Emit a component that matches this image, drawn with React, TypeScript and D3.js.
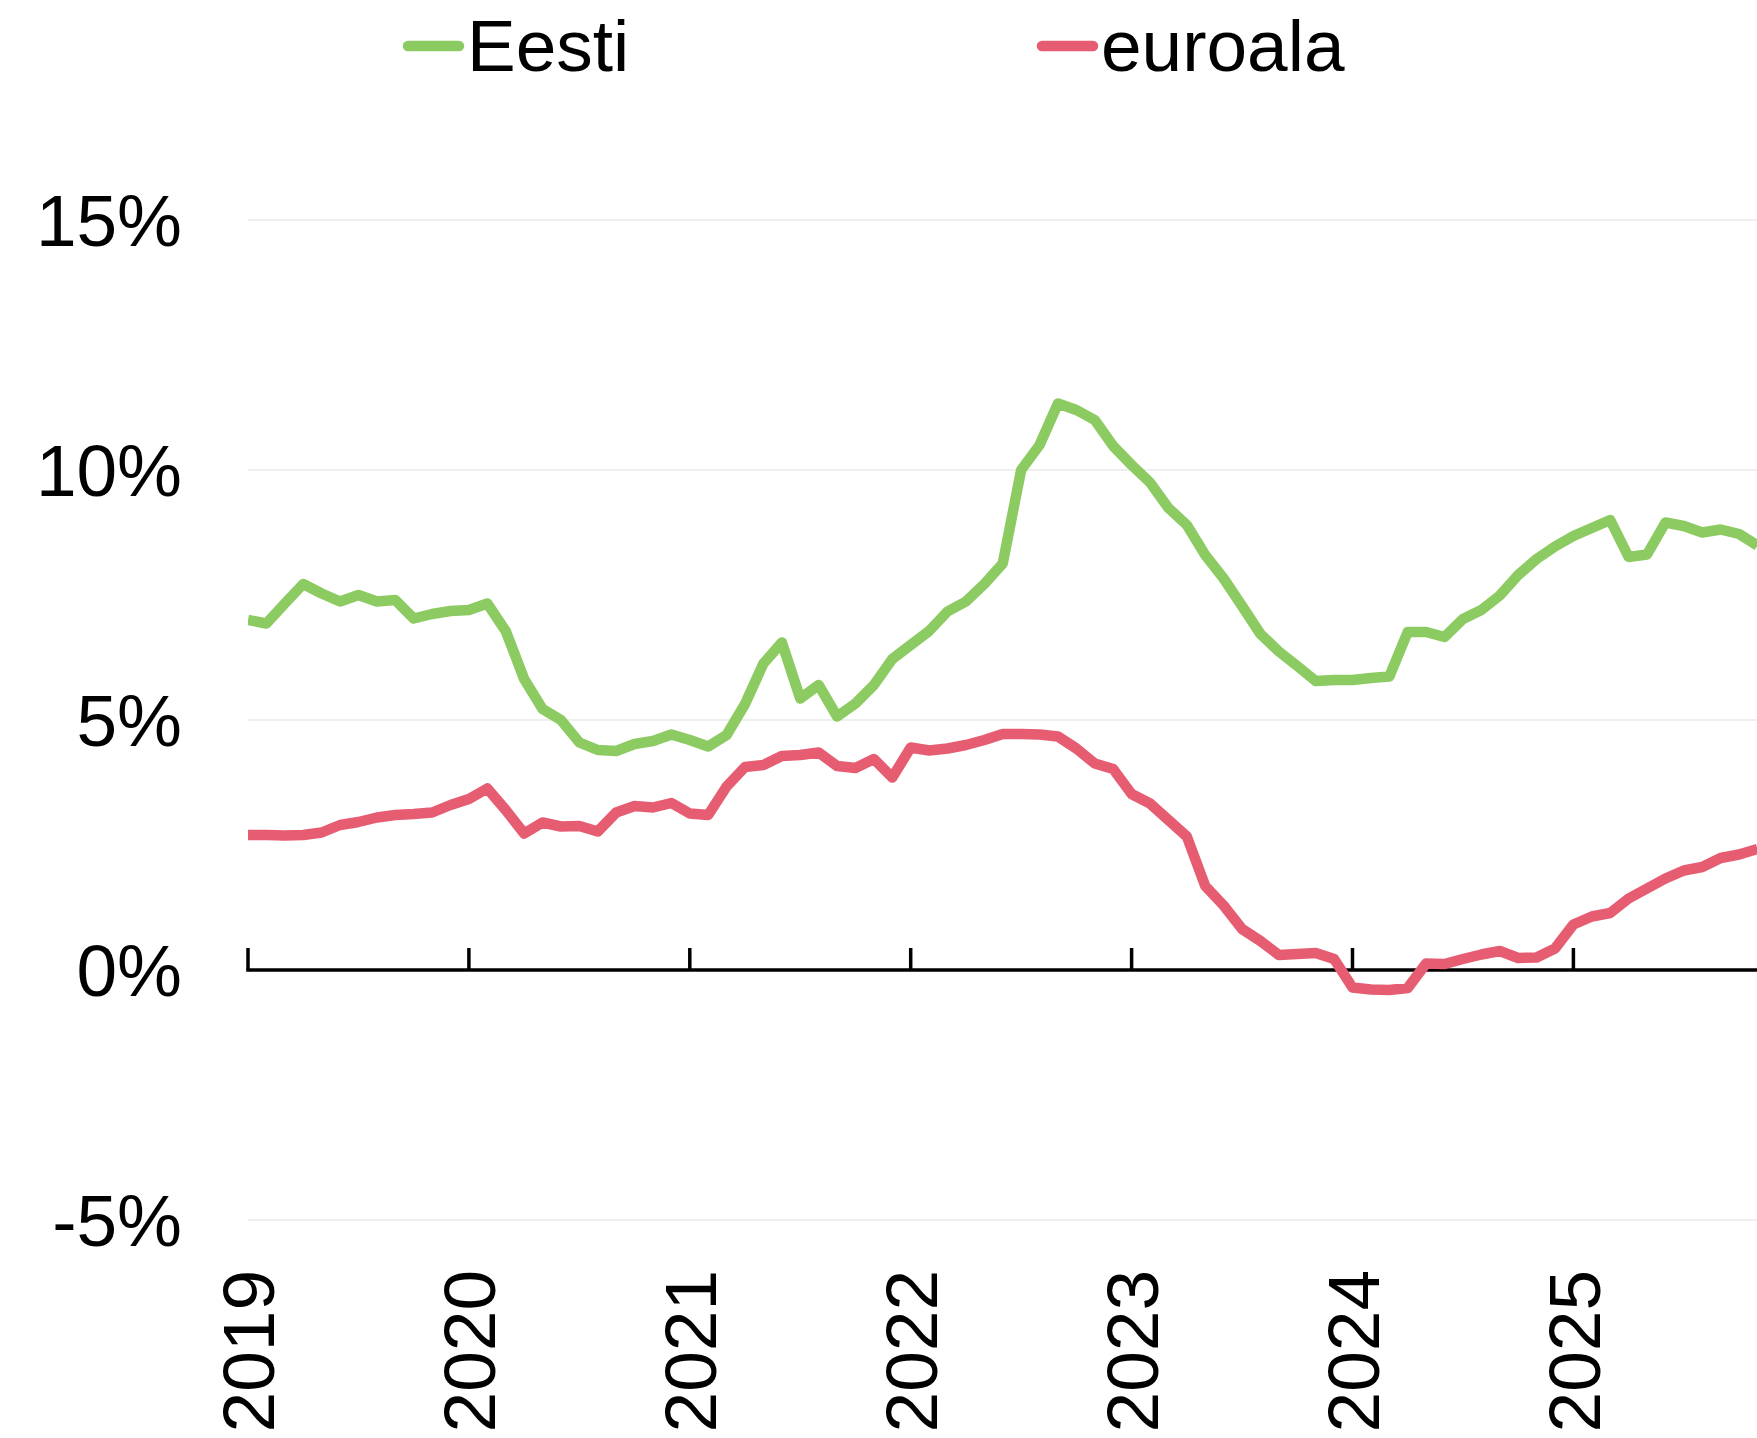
import React from "react";
import * as d3 from "d3";

const W = 1757;
const H = 1438;

const yearLabels = ["2019", "2020", "2021", "2022", "2023", "2024", "2025"];
const yTicks = [-5, 0, 5, 10, 15];
const seriesNames = ["Eesti", "euroala"];
const seriesColors = ["#8ccb62", "#e65d72"];

// monthly values, Jan 2019 .. Nov 2025 (%)
const eesti = [
  7.0, 6.93, 7.33, 7.72, 7.53, 7.37, 7.5, 7.37, 7.4, 7.03, 7.12, 7.18,
  7.2, 7.33, 6.78, 5.82, 5.22, 5.0, 4.55, 4.4, 4.38, 4.52, 4.58, 4.71,
  4.6, 4.47, 4.7, 5.32, 6.13, 6.55, 5.43, 5.7, 5.07, 5.33, 5.7, 6.22,
  6.5, 6.78, 7.17, 7.37, 7.72, 8.13, 10.0, 10.5, 11.33, 11.2, 11.0, 10.48,
  10.1, 9.75, 9.24, 8.9, 8.3, 7.83, 7.28, 6.72, 6.37, 6.08, 5.78, 5.8,
  5.8, 5.84, 5.87, 6.76, 6.76, 6.66, 7.02, 7.2, 7.49, 7.9, 8.22, 8.47,
  8.68, 8.84, 9.0, 8.26, 8.31, 8.95, 8.88, 8.75, 8.81, 8.72, 8.49,
];

const euroala = [
  2.7, 2.7, 2.69, 2.7, 2.75, 2.9, 2.96, 3.05, 3.1, 3.12, 3.15, 3.3,
  3.42, 3.63, 3.2, 2.73, 2.95, 2.87, 2.88, 2.77, 3.15, 3.28, 3.25, 3.34,
  3.13, 3.1, 3.67, 4.06, 4.1, 4.28, 4.3, 4.35, 4.08, 4.04, 4.22, 3.85,
  4.45, 4.39, 4.43, 4.5, 4.6, 4.72, 4.72, 4.71, 4.67, 4.43, 4.13, 4.02,
  3.52, 3.33, 3.0, 2.67, 1.68, 1.29, 0.82, 0.58, 0.3, 0.32, 0.34, 0.22,
  -0.35, -0.39, -0.4, -0.36, 0.13, 0.12, 0.22, 0.31, 0.38, 0.24, 0.25, 0.43,
  0.91, 1.07, 1.14, 1.43, 1.63, 1.83, 1.99, 2.06, 2.24, 2.31, 2.42,
];

export default function App() {
  const x = d3.scaleLinear().domain([0, 12]).range([248, 468.9]);
  const y = d3.scaleLinear().domain([-5, 15]).range([1220, 220]);
  const line = d3
    .line<number>()
    .x((_, i) => x(i))
    .y((d) => y(d));

  const font = "'Liberation Sans', Arial, sans-serif";
  const plotLeft = x(0);
  const seriesData = [eesti, euroala];
  const legendX = [403, 1037];

  return (
    <svg
      width={W}
      height={H}
      style={{ position: "absolute", left: 0, top: 0, background: "#fff" }}
      fontFamily={font}
    >
      <defs>
        <clipPath id="plotclip">
          <rect x={plotLeft} y={0} width={W - plotLeft} height={H} />
        </clipPath>
      </defs>
      {/* gridlines */}
      {yTicks
        .filter((t) => t !== 0)
        .map((t) => (
          <line
            key={"g" + t}
            x1={plotLeft}
            x2={W}
            y1={y(t)}
            y2={y(t)}
            stroke="#efefef"
            strokeWidth={2}
          />
        ))}
      {/* y labels */}
      {yTicks.map((t) => (
        <text
          key={"yl" + t}
          x={182}
          y={y(t)}
          dy="0.36em"
          textAnchor="end"
          fontSize={73}
          fill="#000"
        >
          {t + "%"}
        </text>
      ))}
      {/* zero axis */}
      <line x1={plotLeft - 1.75} x2={W} y1={y(0)} y2={y(0)} stroke="#000" strokeWidth={3.5} />
      {yearLabels.map((lab, k) => (
        <g key={lab}>
          <line
            x1={x(k * 12)}
            x2={x(k * 12)}
            y1={y(0) - 22}
            y2={y(0)}
            stroke="#000"
            strokeWidth={3.5}
          />
          <text
            transform={`translate(${x(k * 12)},1270) rotate(-90)`}
            dy="0.36em"
            textAnchor="end"
            fontSize={73}
            fill="#000"
          >
            {lab}
          </text>
        </g>
      ))}
      {/* series */}
      <g clipPath="url(#plotclip)">
        {seriesData.map((s, si) => (
          <path
            key={seriesNames[si]}
            d={line(s) || ""}
            fill="none"
            stroke={seriesColors[si]}
            strokeWidth={10.5}
            strokeLinejoin="round"
          />
        ))}
      </g>
      {/* legend */}
      {seriesNames.map((n, si) => (
        <g key={"lg" + n}>
          <line
            x1={legendX[si] + 5}
            x2={legendX[si] + 56}
            y1={46}
            y2={46}
            stroke={seriesColors[si]}
            strokeWidth={10.5}
            strokeLinecap="round"
          />
          <text x={legendX[si] + 64} y={71} fontSize={73} fill="#000">
            {n}
          </text>
        </g>
      ))}
    </svg>
  );
}
